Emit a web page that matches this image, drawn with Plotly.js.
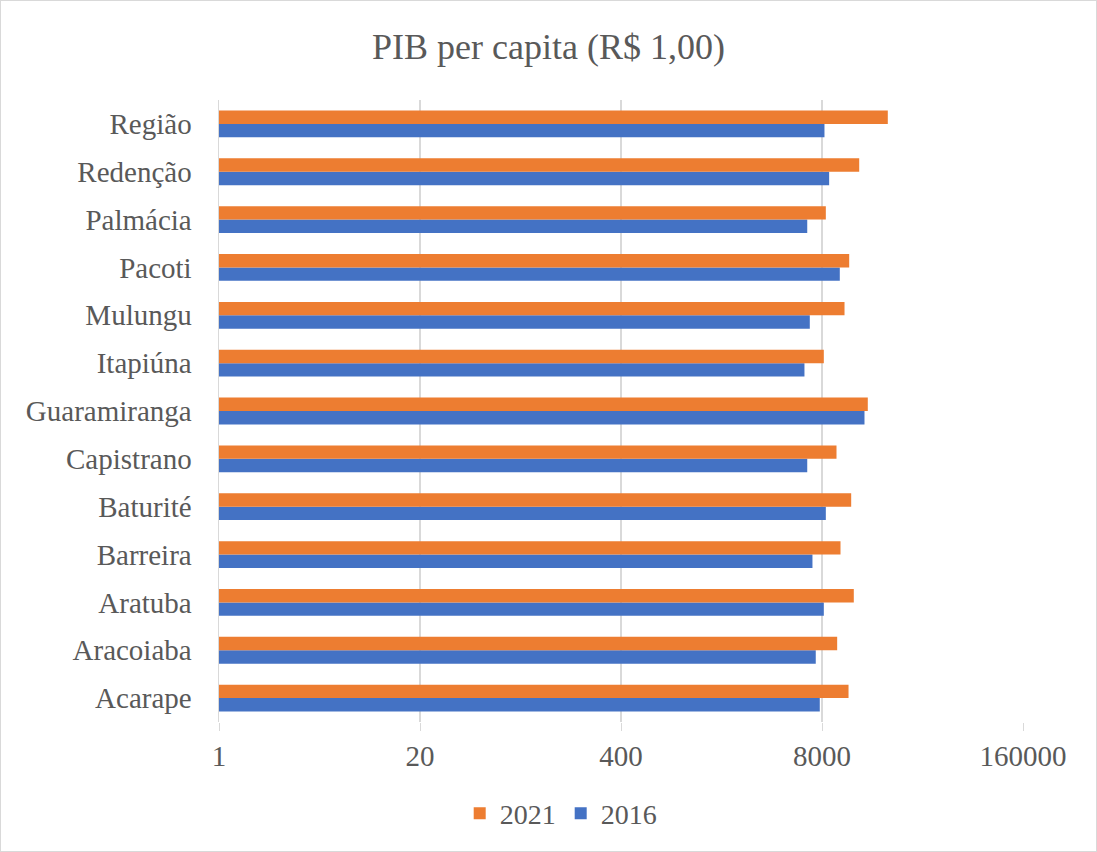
<!DOCTYPE html>
<html><head><meta charset="utf-8">
<script src="https://cdn.plot.ly/plotly-3.0.1.min.js"></script>
<style>
html,body{margin:0;padding:0;background:#fff;}
#chart{width:1097px;height:852px;box-sizing:border-box;border:1px solid #d9d9d9;}
</style></head>
<body><div id="chart"></div>
<script>
const categories = ["Acarape","Aracoiaba","Aratuba","Barreira","Baturité","Capistrano","Guaramiranga","Itapiúna","Mulungu","Pacoti","Palmácia","Redenção","Região"];
const values2016 = [7740, 7290, 8220, 6940, 8470, 6420, 15070, 6160, 6670, 10430, 6420, 8900, 8300];
const values2021 = [11880, 10030, 12850, 10540, 12360, 9930, 15830, 8220, 11190, 12000, 8470, 13930, 21330];
const tickVals = [1, 20, 400, 8000, 160000];
const tickText = ["1", "20", "400", "8000", "160000"];

const font = "Liberation Serif, Times New Roman, serif";
const data = [
  {type:'bar', orientation:'h', name:'2016', y:categories, x:values2016, marker:{color:'#4472c4'}},
  {type:'bar', orientation:'h', name:'2021', y:categories, x:values2021, marker:{color:'#ed7d31'}}
];
const layout = {
  width:1095, height:850,
  paper_bgcolor:'#fff', plot_bgcolor:'#fff',
  font:{family:font, color:'#595959', size:22},
  title:{text:'PIB per capita (R$ 1,00)', font:{family:font, size:36, color:'#595959'}, x:0.5, xanchor:'center', y:0.947, yanchor:'middle'},
  margin:{l:218, r:73, t:99, b:127},
  barmode:'group', bargap:0.44, bargroupgap:0,
  xaxis:{type:'log', range:[0, Math.log10(160000)], tickvals:tickVals, ticktext:tickText,
    showgrid:true, gridcolor:'#d9d9d9', gridwidth:1.5, zeroline:false,
    showline:false, ticks:'outside', ticklen:8, tickcolor:'#d9d9d9',
    tickfont:{family:font, size:29, color:'#595959'}, ticklabelstandoff:0},
  yaxis:{type:'category', showline:true, linecolor:'#d9d9d9', linewidth:1.5,
    showgrid:false, ticks:'', tickfont:{family:font, size:29, color:'#595959'}, ticklabelstandoff:20},
  legend:{orientation:'h', x:0.425, xanchor:'center', y:-0.107, yanchor:'top', traceorder:'reversed',
    font:{family:font, size:28, color:'#595959'}, itemwidth:30},
  showlegend:true
};
Plotly.newPlot('chart', data, layout, {displayModeBar:false, staticPlot:true});
</script></body></html>
